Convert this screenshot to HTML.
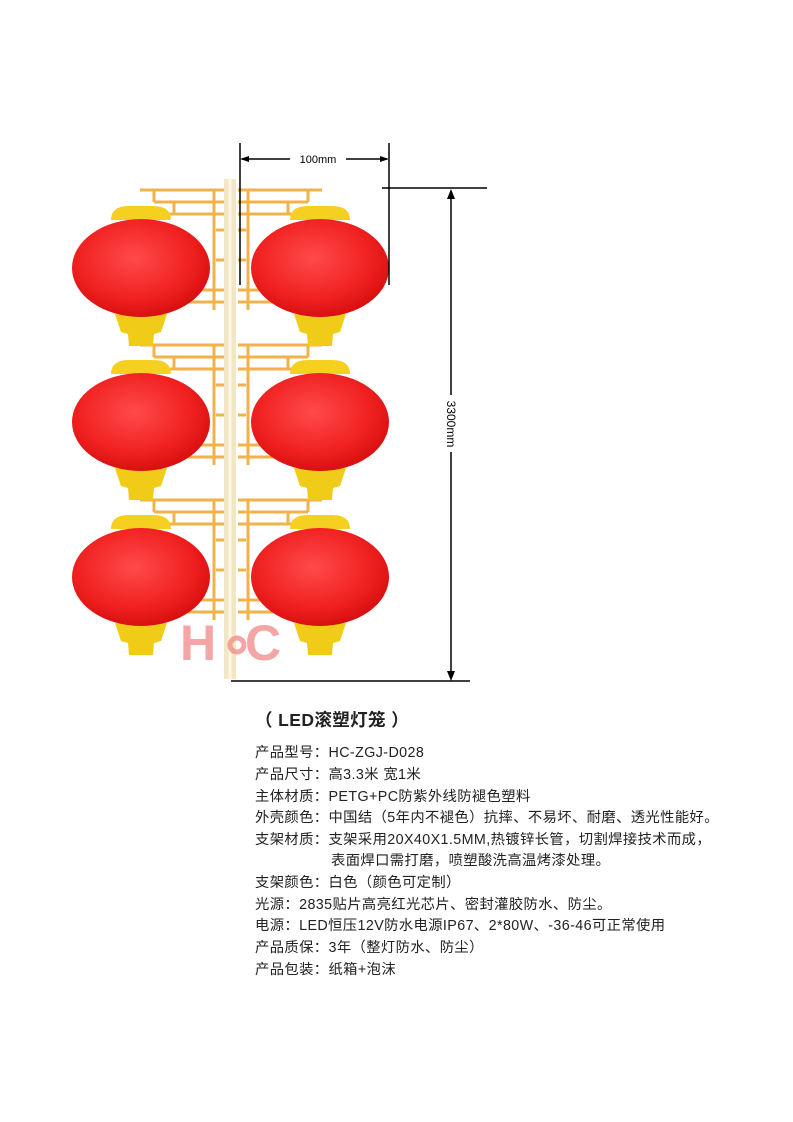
<!DOCTYPE html>
<html><head><meta charset="utf-8"><style>
html,body{margin:0;padding:0;background:#fff;width:793px;height:1122px;overflow:hidden}
.t{position:absolute;left:255px;font-family:"Liberation Sans","Noto Sans CJK SC",sans-serif;font-size:14.3px;color:#222;white-space:nowrap;letter-spacing:0.4px}
</style></head><body>
<svg width="793" height="1122" style="position:absolute;left:0;top:0">
<defs>
<radialGradient id="rg" cx="45%" cy="40%" r="60%"><stop offset="0" stop-color="#ff4a4a"/><stop offset="0.7" stop-color="#f02020"/><stop offset="1" stop-color="#d81010"/></radialGradient>
<g id="lan">
<path d="M-30,-48 Q-30,-62 -12,-62 L12,-62 Q30,-62 30,-48 Z" fill="#f5d020"/>
<path d="M-26,46 L26,46 L20,64 L13,66 L12,78 L-12,78 L-13,66 L-20,64 Z" fill="#f0cc18"/>
<ellipse cx="0" cy="0" rx="69" ry="49" fill="url(#rg)"/>
</g>
<g id="frame" fill="none" stroke="#f2b24a" stroke-width="3">
<path d="M0,0 H-84 M0,12 H-70 M0,24 H-60 M-10,0 V120 M0,100 H-50 M0,112 H-60 M0,40 H-8 M0,70 H-8 M-70,0 V12 M-50,12 V24 M-40,100 V112"/>
</g>
</defs>
<g><use href="#frame" x="224" y="190"/><use href="#frame" x="224" y="345"/><use href="#frame" x="224" y="500"/></g>
<g transform="translate(462,0) scale(-1,1)"><use href="#frame" x="224" y="190"/><use href="#frame" x="224" y="345"/><use href="#frame" x="224" y="500"/></g>
<rect x="224" y="179" width="12" height="500" fill="#f3e6c4"/>
<line x1="230" y1="179" x2="230" y2="679" stroke="#fff8e4" stroke-width="3"/>
<use href="#lan" x="141" y="268"/><use href="#lan" x="320" y="268"/>
<use href="#lan" x="141" y="422"/><use href="#lan" x="320" y="422"/>
<use href="#lan" x="141" y="577"/><use href="#lan" x="320" y="577"/>
<text x="180" y="660" font-family="Liberation Sans,sans-serif" font-size="50" font-weight="bold" fill="#f08080" opacity="0.7">H</text>
<circle cx="237" cy="645" r="7" fill="none" stroke="#f08080" stroke-width="5" opacity="0.7"/>
<text x="245" y="660" font-family="Liberation Sans,sans-serif" font-size="50" font-weight="bold" fill="#f08080" opacity="0.7">C</text>
<g stroke="#000" stroke-width="1.5" fill="none">
<line x1="240" y1="143" x2="240" y2="285"/>
<line x1="389" y1="143" x2="389" y2="285"/>
<line x1="242" y1="159" x2="290" y2="159"/>
<line x1="346" y1="159" x2="387" y2="159"/>
<line x1="382" y1="188" x2="487" y2="188"/>
<line x1="231" y1="681" x2="470" y2="681"/>
<line x1="451" y1="192" x2="451" y2="395"/>
<line x1="451" y1="452" x2="451" y2="677"/>
</g>
<g fill="#000">
<path d="M240,159 l9,-3 v6z"/><path d="M389,159 l-9,-3 v6z"/>
<path d="M451,189 l-4,10 h8z"/><path d="M451,681 l-4,-10 h8z"/>
</g>
<text x="318" y="163" text-anchor="middle" font-family="Liberation Sans,sans-serif" font-size="11">100mm</text>
<text transform="translate(447,424) rotate(90)" text-anchor="middle" font-family="Liberation Sans,sans-serif" font-size="12">3300mm</text>
</svg>
<div class="t" style="top:707px;font-size:17.5px;font-weight:bold;">（ LED滚塑灯笼 ）</div>
<div class="t" style="top:741px">产品型号：HC-ZGJ-D028</div>
<div class="t" style="top:763px">产品尺寸：高3.3米 宽1米</div>
<div class="t" style="top:785px">主体材质：PETG+PC防紫外线防褪色塑料</div>
<div class="t" style="top:806px">外壳颜色：中国结（5年内不褪色）抗摔、不易坏、耐磨、透光性能好。</div>
<div class="t" style="top:828px">支架材质：支架采用20X40X1.5MM,热镀锌长管，切割焊接技术而成，</div>
<div class="t" style="top:849px;left:331px">表面焊口需打磨，喷塑酸洗高温烤漆处理。</div>
<div class="t" style="top:871px">支架颜色：白色（颜色可定制）</div>
<div class="t" style="top:893px">光源：2835贴片高亮红光芯片、密封灌胶防水、防尘。</div>
<div class="t" style="top:914px">电源：LED恒压12V防水电源IP67、2*80W、-36-46可正常使用</div>
<div class="t" style="top:936px">产品质保：3年（整灯防水、防尘）</div>
<div class="t" style="top:958px">产品包装：纸箱+泡沫</div>
</body></html>
